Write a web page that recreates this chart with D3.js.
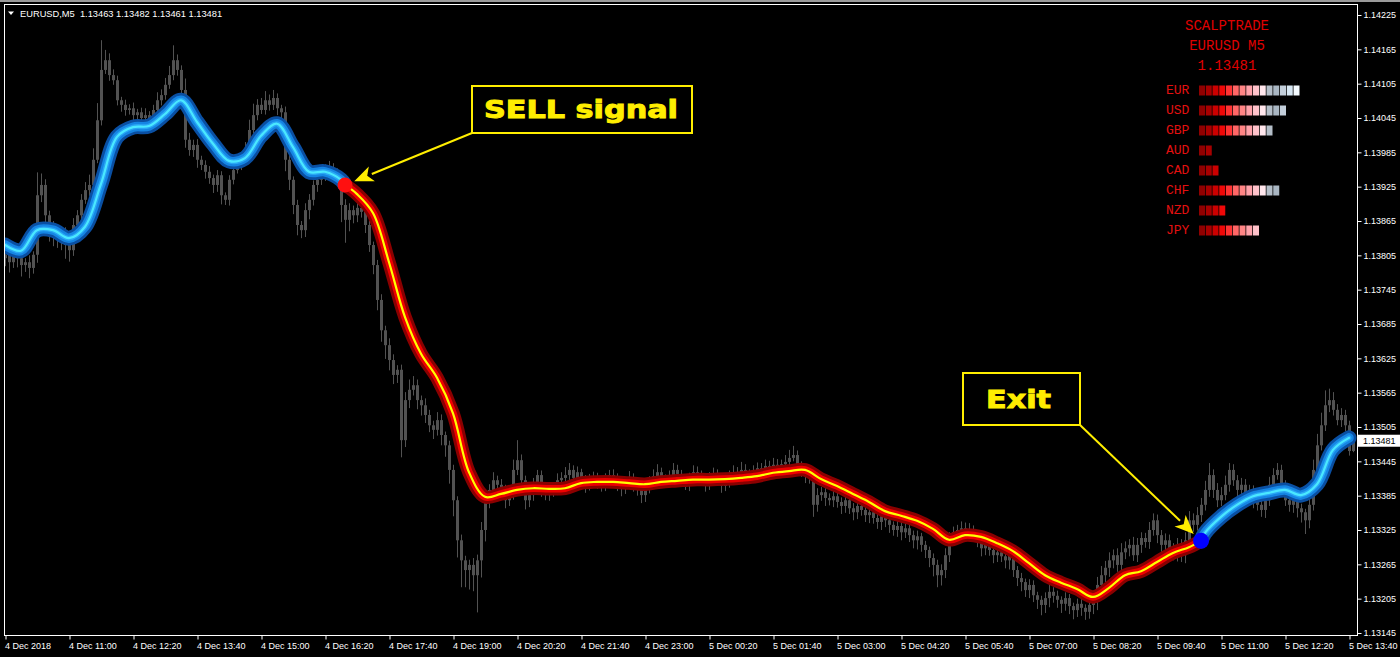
<!DOCTYPE html>
<html>
<head>
<meta charset="utf-8">
<script src="https://cdn.jsdelivr.net/npm/d3@7"></script>
<style>
  html, body { margin: 0; padding: 0; background: #000; }
  svg { display: block; }
</style>
</head>
<body>
<div id="chart"></div>
<script>
var W = 1400, H = 657;

// EURUSD M5, bar 0 = 4 Dec 2018 09:40
var symbol = "EURUSD,M5";
var ohlcNow = [1.13463, 1.13482, 1.13461, 1.13481];
var firstOpen = 1.13800;

// candle closes, in points above 1.13000
var closePts = [
  806, 793, 814, 800, 788, 793, 783, 806, 910, 928,
  875, 841, 853, 832, 846, 823, 814, 858, 875, 902,
  919, 928, 972, 1041, 1129, 1146, 1120, 1111, 1076, 1068,
  1059, 1062, 1050, 1055, 1045, 1050, 1038, 1059, 1076, 1085,
  1103, 1120, 1146, 1129, 1094, 1007, 989, 998, 972, 963,
  951, 940, 928, 945, 910, 902, 937, 954, 963, 972,
  989, 1024, 1050, 1068, 1059, 1076, 1068, 1080, 1062, 1055,
  972, 937, 893, 858, 849, 884, 902, 928, 937, 945,
  954, 958, 951, 940, 893, 867, 884, 875, 888, 881,
  858, 823, 788, 727, 674, 648, 622, 596, 605, 482,
  552, 570, 578, 552, 543, 526, 508, 500, 517, 491,
  473, 430, 377, 307, 272, 255, 264, 246, 272, 325,
  377, 395, 412, 404, 395, 377, 386, 430, 447, 412,
  377, 386, 404, 421, 395, 386, 391, 398, 412, 416,
  421, 430, 416, 426, 412, 404, 412, 419, 409, 402,
  412, 421, 416, 405, 398, 409, 416, 404, 395, 386,
  398, 409, 419, 426, 416, 409, 419, 430, 423, 412,
  405, 416, 426, 421, 412, 404, 416, 423, 412, 402,
  409, 419, 426, 419, 430, 423, 416, 426, 433, 430,
  437, 430, 439, 433, 440, 444, 451, 456, 439, 430,
  421, 416, 369, 386, 391, 381, 377, 384, 374, 367,
  377, 363, 356, 367, 360, 351, 356, 346, 339, 349,
  342, 334, 325, 332, 321, 328, 316, 307, 314, 299,
  290, 276, 264, 246, 255, 281, 307, 321, 325, 328,
  320, 325, 316, 307, 293, 299, 290, 281, 286, 279,
  272, 281, 255, 241, 234, 220, 229, 211, 203, 194,
  206, 217, 210, 203, 196, 206, 192, 185, 196, 189,
  182, 194, 203, 229, 246, 259, 272, 281, 264, 286,
  293, 299, 281, 299, 311, 304, 325, 342, 316, 299,
  307, 293, 286, 299, 281, 307, 342, 334, 351, 369,
  395, 421, 395, 377, 386, 404, 430, 412, 395, 404,
  386, 395, 377, 369, 360, 377, 404, 421, 430, 404,
  377, 369, 377, 363, 356, 342, 369, 430, 473, 508,
  543, 552, 535, 517, 526, 508, 463, 481
];
// upper / lower shadow beyond the body, points
var wickHiPts = [
  6, 10, 8, 5, 9, 7, 12, 6, 40, 20,
  10, 8, 12, 6, 10, 8, 5, 12, 9, 10,
  14, 18, 20, 30, 52, 18, 12, 10, 8, 6,
  9, 7, 10, 6, 8, 12, 7, 9, 14, 10,
  12, 16, 26, 10, 8, 20, 12, 9, 10, 7,
  8, 10, 6, 9, 7, 5, 8, 10, 6, 12,
  14, 18, 20, 10, 12, 16, 10, 14, 8, 6,
  10, 8, 6, 9, 7, 12, 10, 8, 11, 9,
  10, 12, 8, 6, 9, 10, 12, 8, 10, 9,
  8, 7, 6, 9, 10, 8, 12, 10, 8, 9,
  14, 18, 16, 10, 8, 12, 9, 8, 14, 10,
  6, 8, 9, 7, 10, 8, 9, 12, 10, 14,
  12, 10, 14, 8, 10, 9, 12, 18, 35, 10,
  8, 10, 12, 9, 8, 10, 6, 9, 12, 10,
  14, 12, 8, 10, 6, 9, 11, 8, 6, 10,
  12, 9, 10, 8, 6, 9, 12, 8, 7, 6,
  9, 10, 12, 14, 8, 6, 10, 12, 9, 7,
  6, 9, 12, 10, 8, 6, 10, 11, 8, 6,
  8, 10, 12, 9, 14, 10, 8, 12, 10, 9,
  11, 9, 12, 10, 8, 12, 14, 16, 8, 6,
  8, 6, 10, 12, 9, 7, 8, 10, 6, 8,
  10, 7, 9, 11, 8, 6, 9, 7, 8, 10,
  9, 7, 6, 10, 8, 9, 7, 8, 10, 6,
  7, 6, 8, 9, 10, 12, 14, 10, 9, 12,
  10, 12, 8, 9, 6, 10, 8, 7, 9, 6,
  8, 12, 6, 7, 9, 6, 10, 8, 6, 7,
  10, 12, 8, 9, 6, 10, 7, 6, 9, 8,
  6, 8, 12, 14, 16, 12, 14, 10, 12, 16,
  12, 10, 14, 12, 10, 9, 14, 12, 10, 9,
  12, 10, 9, 12, 10, 14, 16, 12, 14, 12,
  16, 21, 10, 12, 14, 16, 12, 10, 9, 12,
  10, 9, 8, 10, 7, 12, 14, 12, 12, 9,
  8, 10, 9, 7, 8, 6, 12, 18, 20, 22,
  26, 20, 14, 10, 12, 9, 8, 1
];
var wickLoPts = [
  14, 18, 10, 16, 20, 12, 18, 10, 14, 12,
  16, 12, 20, 14, 18, 24, 20, 10, 8, 9,
  7, 10, 8, 6, 9, 7, 10, 8, 9, 12,
  10, 8, 9, 12, 10, 14, 12, 8, 6, 9,
  8, 7, 9, 10, 12, 14, 10, 12, 14, 9,
  12, 10, 14, 12, 16, 9, 10, 8, 6, 9,
  8, 10, 6, 9, 7, 8, 10, 9, 12, 14,
  20, 18, 16, 18, 14, 12, 16, 10, 12, 9,
  10, 8, 12, 14, 30, 40, 20, 14, 12, 10,
  14, 12, 16, 18, 20, 24, 18, 16, 14, 30,
  12, 14, 10, 16, 18, 14, 12, 16, 10, 18,
  20, 24, 28, 30, 47, 30, 34, 28, 65, 30,
  20, 14, 12, 16, 12, 14, 10, 8, 9, 14,
  16, 12, 10, 14, 12, 9, 10, 8, 12, 10,
  8, 9, 10, 12, 8, 14, 10, 9, 12, 10,
  9, 8, 10, 12, 14, 10, 9, 12, 10, 14,
  12, 9, 8, 10, 12, 9, 8, 10, 12, 9,
  10, 12, 8, 9, 10, 12, 9, 8, 10, 12,
  9, 10, 8, 12, 9, 10, 8, 9, 10, 8,
  9, 10, 8, 9, 10, 8, 9, 6, 10, 12,
  14, 10, 21, 12, 10, 14, 9, 12, 10, 14,
  12, 10, 14, 12, 10, 12, 14, 10, 12, 14,
  12, 14, 10, 12, 14, 10, 12, 14, 16, 12,
  14, 16, 20, 21, 18, 14, 12, 10, 14, 12,
  12, 14, 10, 12, 14, 12, 10, 14, 12, 10,
  14, 16, 12, 14, 16, 12, 14, 12, 16, 18,
  14, 16, 12, 14, 16, 12, 14, 16, 12, 14,
  14, 12, 16, 18, 14, 12, 16, 14, 12, 10,
  12, 14, 10, 12, 14, 10, 12, 10, 14, 12,
  10, 12, 14, 16, 12, 14, 10, 12, 10, 12,
  10, 12, 14, 12, 10, 9, 12, 10, 14, 12,
  10, 12, 14, 10, 12, 14, 10, 9, 8, 12,
  10, 12, 14, 16, 18, 24, 14, 10, 8, 9,
  10, 12, 10, 9, 12, 10, 8, 2
];

// smoothed trend line, one reading every 4 bars
var lineStep = 4;
var lineVals = [
  1.13823, 1.13813, 1.13849, 1.13849, 1.13835, 1.13855, 1.13930, 1.14012, 1.14029, 1.14031,
  1.14052, 1.14076, 1.14038, 1.14000, 1.13970, 1.13975, 1.14014, 1.14035, 1.13994, 1.13951,
  1.13951, 1.13937, 1.13912, 1.13879, 1.13793, 1.13697, 1.13633, 1.13591, 1.13529, 1.13426,
  1.13383, 1.13388, 1.13395, 1.13398, 1.13397, 1.13398, 1.13407, 1.13409, 1.13409, 1.13407,
  1.13405, 1.13409, 1.13411, 1.13413, 1.13413, 1.13414, 1.13416, 1.13419, 1.13425, 1.13428,
  1.13430, 1.13414, 1.13402, 1.13388, 1.13374, 1.13358, 1.13350, 1.13341, 1.13327, 1.13308,
  1.13316, 1.13313, 1.13302, 1.13288, 1.13267, 1.13246, 1.13233, 1.13222, 1.13208, 1.13224,
  1.13246, 1.13253, 1.13269, 1.13285, 1.13295, 1.13320, 1.13348, 1.13369, 1.13384, 1.13390,
  1.13395, 1.13386, 1.13405, 1.13465, 1.13486
];
var sellBar = 85, sellPrice = 1.13928;
var exitBar = 299, exitPrice = 1.13306;

var priceTicks = [1.14225, 1.14165, 1.14105, 1.14045, 1.13985, 1.13925, 1.13865, 1.13805, 1.13745, 1.13685,
  1.13625, 1.13565, 1.13505, 1.13445, 1.13385, 1.13325, 1.13265, 1.13205, 1.13145];
var timeTickBars = [0, 16, 32, 48, 64, 80, 96, 112, 128, 144, 160, 176, 192, 208, 224, 240, 256, 272, 288, 304, 320, 336];
var timeLabels = ["4 Dec 2018", "4 Dec 11:00", "4 Dec 12:20", "4 Dec 13:40", "4 Dec 15:00", "4 Dec 16:20",
  "4 Dec 17:40", "4 Dec 19:00", "4 Dec 20:20", "4 Dec 21:40", "4 Dec 23:00", "5 Dec 00:20", "5 Dec 01:40",
  "5 Dec 03:00", "5 Dec 04:20", "5 Dec 05:40", "5 Dec 07:00", "5 Dec 08:20", "5 Dec 09:40", "5 Dec 11:00",
  "5 Dec 12:20", "5 Dec 13:40"];

var panelTitle = ["SCALPTRADE", "EURUSD M5", "1.13481"];
var currencies = ["EUR", "USD", "GBP", "AUD", "CAD", "CHF", "NZD", "JPY"];
var strength = [15, 13, 11, 2, 3, 12, 4, 9];

var cellColors = ["#900000", "#a80000", "#cc0000", "#f00808", "#ff3434", "#ff6666", "#ff8585", "#ffa2aa",
  "#ffc2ca", "#ffe6ec", "#b4bec8", "#a9b6c2", "#c2ceda", "#d6e6f2", "#f4fbff"];

var plot = {left: 4, right: 1357, top: 4, bottom: 635};
var fontUI = "'Liberation Sans', Arial, sans-serif";
var yellow = "#ffee00";

var x = d3.scaleLinear().domain([0, closePts.length - 1]).range([5, 5 + 4 * (closePts.length - 1)]);
var y = d3.scaleLinear().domain([1.13145, 1.14225]).range([633, 15]);

var candles = closePts.map(function (c, i) {
    var close = 1.13 + c / 1e5;
    var open = i === 0 ? firstOpen : 1.13 + closePts[i - 1] / 1e5;
    return {
        i: i, o: open, c: close,
        h: Math.max(open, close) + wickHiPts[i] / 1e5,
        l: Math.min(open, close) - wickLoPts[i] / 1e5
    };
});

var svg = d3.select("#chart").append("svg")
    .attr("width", W)
    .attr("height", H);

svg.append("rect").attr("width", W).attr("height", H).attr("fill", "#000");
svg.append("rect").attr("width", W).attr("height", 2).attr("fill", "#9a9a9a");

svg.append("clipPath").attr("id", "plotclip")
    .append("rect")
    .attr("x", plot.left + 1).attr("y", plot.top + 1)
    .attr("width", plot.right - plot.left - 1)
    .attr("height", plot.bottom - plot.top - 1);

var pg = svg.append("g").attr("clip-path", "url(#plotclip)");

// candles
var cg = pg.append("g").attr("class", "candles");
cg.selectAll("line")
    .data(candles)
    .enter().append("line")
    .attr("x1", function (d) { return x(d.i) + 0.5; })
    .attr("x2", function (d) { return x(d.i) + 0.5; })
    .attr("y1", function (d) { return y(d.h); })
    .attr("y2", function (d) { return y(d.l); })
    .attr("stroke", "#525252")
    .attr("stroke-width", 1);
cg.selectAll("rect")
    .data(candles)
    .enter().append("rect")
    .attr("x", function (d) { return x(d.i) - 1; })
    .attr("width", 3)
    .attr("y", function (d) { return y(Math.max(d.o, d.c)); })
    .attr("height", function (d) { return Math.max(1, Math.abs(y(d.o) - y(d.c))); })
    .attr("fill", "#525252");

// trend line segments
var linePts = lineVals.map(function (v, k) { return [k * lineStep, v]; });
var sellPt = [sellBar, sellPrice], exitPt = [exitBar, exitPrice];
var seg1 = linePts.filter(function (p) { return p[0] < sellBar; }).concat([sellPt]);
var seg2 = [sellPt].concat(linePts.filter(function (p) { return p[0] > sellBar && p[0] < exitBar; }), [exitPt]);
var seg3 = [exitPt].concat(linePts.filter(function (p) { return p[0] > exitBar; }));

var line = d3.line()
    .x(function (d) { return x(d[0]); })
    .y(function (d) { return y(d[1]); })
    .curve(d3.curveCatmullRom.alpha(0.5));

var blueGlow = [["#0a4fa2", 15], ["#1585e4", 9.5], ["#2aa6f4", 5], ["#4ae8ff", 2.2]];
var redGlow = [["#8a0000", 13.5], ["#ee0000", 7.5], ["#ffff00", 2.2]];

function glow(data, layers) {
    layers.forEach(function (l) {
        pg.append("path")
            .datum(data)
            .attr("d", line)
            .attr("fill", "none")
            .attr("stroke", l[0])
            .attr("stroke-width", l[1])
            .attr("stroke-linecap", "round")
            .attr("stroke-linejoin", "round");
    });
}
glow(seg1, blueGlow);
glow(seg3, blueGlow);
glow(seg2, redGlow);

// signal dots
pg.append("circle").attr("cx", x(sellBar)).attr("cy", y(sellPrice)).attr("r", 7.5).attr("fill", "#ff1010");
pg.append("circle").attr("cx", x(exitBar)).attr("cy", y(exitPrice)).attr("r", 8).attr("fill", "#0000ff");

// annotation boxes with arrows
function callout(box, label, textX, textW, from, target) {
    var ag = svg.append("g");
    ag.append("rect")
        .attr("x", box[0]).attr("y", box[1])
        .attr("width", box[2]).attr("height", box[3])
        .attr("fill", "none")
        .attr("stroke", yellow)
        .attr("stroke-width", 2);
    ag.append("text")
        .attr("x", textX)
        .attr("y", box[1] + box[3] / 2 + 8.5)
        .attr("textLength", textW)
        .attr("lengthAdjust", "spacingAndGlyphs")
        .style("font-family", "'DejaVu Sans', sans-serif")
        .style("font-weight", "bold")
        .style("font-size", "24px")
        .attr("fill", yellow)
        .attr("stroke", yellow)
        .attr("stroke-width", 0.9)
        .text(label);

    var dx = target[0] - from[0], dy = target[1] - from[1];
    var len = Math.sqrt(dx * dx + dy * dy);
    var ux = dx / len, uy = dy / len;
    var tip = [target[0] - ux * 10, target[1] - uy * 10];
    var base = [tip[0] - ux * 19, tip[1] - uy * 19];
    ag.append("line")
        .attr("x1", from[0]).attr("y1", from[1])
        .attr("x2", base[0]).attr("y2", base[1])
        .attr("stroke", yellow)
        .attr("stroke-width", 2);
    ag.append("polygon")
        .attr("points", [
            tip,
            [base[0] - uy * 8, base[1] + ux * 8],
            [base[0] + ux * 5, base[1] + uy * 5],
            [base[0] + uy * 8, base[1] - ux * 8]
        ].map(function (p) { return p.join(","); }).join(" "))
        .attr("fill", yellow);
}
callout([472, 86, 220, 47], "SELL signal", 484, 194, [472, 133], [x(sellBar), y(sellPrice)]);
callout([963, 373, 117, 52], "Exit", 986, 65, [1080, 425], [x(exitBar), y(exitPrice)]);

// strength panel
var panel = svg.append("g").style("font-family", "'Liberation Mono', 'DejaVu Sans Mono', monospace");
panel.selectAll("text.title")
    .data(panelTitle)
    .enter().append("text")
    .attr("class", "title")
    .attr("x", 1227)
    .attr("y", function (d, i) { return 30 + 20 * i; })
    .attr("text-anchor", "middle")
    .style("font-size", "14px")
    .attr("fill", "#e00000")
    .text(function (d) { return d; });

var rows = panel.selectAll("g.row")
    .data(currencies)
    .enter().append("g")
    .attr("class", "row")
    .attr("transform", function (d, i) { return "translate(0," + (94 + 20 * i) + ")"; });
rows.append("text")
    .attr("x", 1166)
    .attr("y", 0)
    .style("font-size", "13px")
    .attr("fill", "#e41010")
    .text(function (d) { return d; });
rows.each(function (d, r) {
    d3.select(this).selectAll("rect")
        .data(d3.range(strength[r]))
        .enter().append("rect")
        .attr("x", function (j) { return 1199 + j * 6.75; })
        .attr("y", -8.5)
        .attr("width", 6)
        .attr("height", 10)
        .attr("fill", function (j) { return cellColors[j]; });
});

// frame
svg.append("rect")
    .attr("x", plot.left + 0.5).attr("y", plot.top + 0.5)
    .attr("width", plot.right - plot.left)
    .attr("height", plot.bottom - plot.top)
    .attr("fill", "none")
    .attr("stroke", "#ffffff")
    .attr("stroke-width", 1);

// price axis
var yAxis = d3.axisRight(y)
    .tickValues(priceTicks)
    .tickSize(4)
    .tickPadding(2)
    .tickFormat(d3.format(".5f"));
var yg = svg.append("g")
    .attr("transform", "translate(" + (plot.right + 0.5) + ",0)")
    .call(yAxis);
yg.select(".domain").remove();
yg.selectAll("line").attr("stroke", "#fff");
yg.selectAll("text")
    .attr("fill", "#fff")
    .style("font-family", fontUI)
    .style("font-size", "9px");

// current price tag
var nowY = y(ohlcNow[3]);
svg.append("rect")
    .attr("x", plot.right + 1).attr("y", nowY - 6)
    .attr("width", W - plot.right - 1).attr("height", 12)
    .attr("fill", "#fff");
svg.append("text")
    .attr("x", plot.right + 6).attr("y", nowY + 3.5)
    .style("font-family", fontUI)
    .style("font-size", "9px")
    .attr("fill", "#000")
    .text(d3.format(".5f")(ohlcNow[3]));

// time axis
var xAxis = d3.axisBottom(x)
    .tickValues(timeTickBars)
    .tickSize(4)
    .tickFormat(function (d, i) { return timeLabels[i]; });
var xg = svg.append("g")
    .attr("transform", "translate(0.5," + (plot.bottom + 0.5) + ")")
    .call(xAxis);
xg.select(".domain").remove();
xg.selectAll("line").attr("stroke", "#fff");
xg.selectAll("text")
    .attr("fill", "#fff")
    .attr("text-anchor", "start")
    .attr("x", -1)
    .attr("y", 13.5)
    .attr("dy", 0)
    .style("font-family", fontUI)
    .style("font-size", "9px");

// header
svg.append("path")
    .attr("d", "M8,11.5L14,11.5L11,15Z")
    .attr("fill", "#fff");
svg.append("text")
    .attr("x", 20).attr("y", 16.5)
    .style("font-family", fontUI)
    .style("font-size", "9.3px")
    .attr("fill", "#fff")
    .attr("xml:space", "preserve")
    .text(symbol + "  " + ohlcNow.map(d3.format(".5f")).join(" "));
</script>
</body>
</html>
